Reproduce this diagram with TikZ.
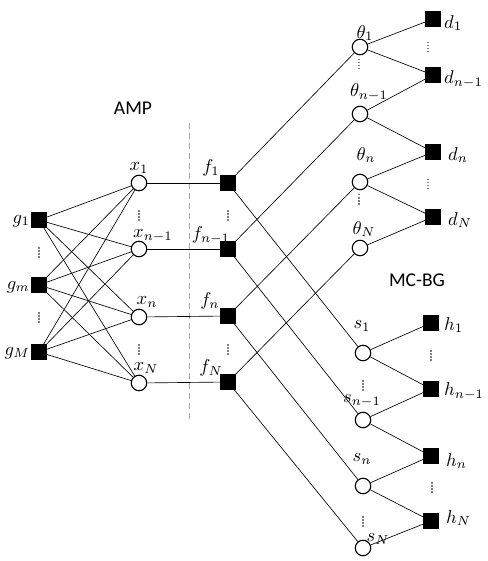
\documentclass[tikz,border=0pt]{standalone}
\usepackage{fontspec}
\newfontfamily\calib{Carlito}
\newcommand{\lbl}[1]{\scalebox{1.85}{$#1$}}
\begin{document}
\begin{tikzpicture}[x=1pt,y=-1pt,
  sq/.style={draw,fill=black,minimum size=15pt,inner sep=0pt,rectangle},
  cir/.style={draw,fill=white,circle,minimum size=15.5pt,inner sep=0pt,line width=1.1pt},
  edge/.style={line width=0.65pt},
  vdots/.style={gray,line width=1.4pt,dash pattern=on 1.5pt off 1.5pt},
  lab/.style={inner sep=0pt},
  ttl/.style={font=\calib\fontsize{19.5}{22}\selectfont}]
\useasboundingbox (0,0) rectangle (487,561);
% dashed separator
\draw[gray!70,line width=1pt,dash pattern=on 6pt off 4pt] (189,123) -- (189,419);
% nodes
\node[sq] (g1) at (39,220) {};
\node[sq] (gm) at (39,285) {};
\node[sq] (gM) at (39,352) {};
\node[cir] (x1) at (139,183) {};
\node[cir] (xn1) at (139,249) {};
\node[cir] (xn) at (139,317) {};
\node[cir] (xN) at (139,383) {};
\node[sq] (f1) at (228,183) {};
\node[sq] (fn1) at (228,249) {};
\node[sq] (fn) at (228,316) {};
\node[sq] (fN) at (228,382) {};
\node[cir] (t1) at (360,47) {};
\node[cir] (tn1) at (360,114) {};
\node[cir] (tn) at (360,182) {};
\node[cir] (tN) at (360,248) {};
\node[sq] (d1) at (433,19) {};
\node[sq] (dn1) at (433,75) {};
\node[sq] (dn) at (433,152) {};
\node[sq] (dN) at (433,217) {};
\node[cir] (s1) at (363,353) {};
\node[cir] (sn1) at (363,420) {};
\node[cir] (sn) at (363,486) {};
\node[cir] (sN) at (363,548) {};
\node[sq] (h1) at (431,323) {};
\node[sq] (hn1) at (431,389) {};
\node[sq] (hn) at (431,456) {};
\node[sq] (hN) at (431,521) {};
% edges
\foreach \g in {g1,gm,gM}{
  \foreach \x in {x1,xn1,xn,xN}{
    \draw[edge] (\g) -- (\x);
  }
}
\draw[edge] (x1) -- (f1);
\draw[edge] (xn1) -- (fn1);
\draw[edge] (xn) -- (fn);
\draw[edge] (xN) -- (fN);
\draw[edge] (f1) -- (t1);
\draw[edge] (f1) -- (s1);
\draw[edge] (fn1) -- (tn1);
\draw[edge] (fn1) -- (sn1);
\draw[edge] (fn) -- (tn);
\draw[edge] (fn) -- (sn);
\draw[edge] (fN) -- (tN);
\draw[edge] (fN) -- (sN);
\draw[edge] (t1) -- (d1);
\draw[edge] (t1) -- (dn1);
\draw[edge] (tn1) -- (dn1);
\draw[edge] (tn1) -- (dn);
\draw[edge] (tn) -- (dn);
\draw[edge] (tn) -- (dN);
\draw[edge] (tN) -- (dN);
\draw[edge] (s1) -- (h1);
\draw[edge] (s1) -- (hn1);
\draw[edge] (sn1) -- (hn1);
\draw[edge] (sn1) -- (hn);
\draw[edge] (sn) -- (hn);
\draw[edge] (sn) -- (hN);
\draw[edge] (sN) -- (hN);
% vertical dots
\foreach \px/\py in {39/253, 39/318, 139/216, 139/350, 228/216, 228/350,
  359/65, 359/200, 428/48, 428/185, 363/386, 363/522, 431/356, 432/488}{
  \draw[vdots] (\px,\py-6) -- (\px,\py+6);
}
% labels
\node[lab,anchor=east] at (30,221) {\lbl{g_1}};
\node[lab,anchor=east] at (30,287) {\lbl{g_m}};
\node[lab,anchor=east] at (30,353) {\lbl{g_M}};
\node[lab] at (139,168) {\lbl{x_1}};
\node[lab] at (153,236) {\lbl{x_{n-1}}};
\node[lab] at (147,302) {\lbl{x_n}};
\node[lab] at (146,368) {\lbl{x_N}};
\node[lab] at (211,168) {\lbl{f_1}};
\node[lab] at (211,235) {\lbl{f_{n-1}}};
\node[lab] at (210,301) {\lbl{f_n}};
\node[lab] at (211,368) {\lbl{f_N}};
\node[lab] at (365,33) {\lbl{\theta_1}};
\node[lab] at (369,92) {\lbl{\theta_{n-1}}};
\node[lab] at (366,155) {\lbl{\theta_n}};
\node[lab] at (364,229) {\lbl{\theta_N}};
\node[lab,anchor=west] at (444,23) {\lbl{d_1}};
\node[lab,anchor=west] at (444,79) {\lbl{d_{n-1}}};
\node[lab,anchor=west] at (448,155) {\lbl{d_n}};
\node[lab,anchor=west] at (448,220) {\lbl{d_N}};
\node[lab] at (362,326) {\lbl{s_1}};
\node[lab] at (362,401) {\lbl{s_{n-1}}};
\node[lab] at (362,459) {\lbl{s_n}};
\node[lab] at (378,539) {\lbl{s_N}};
\node[lab,anchor=west] at (444,325) {\lbl{h_1}};
\node[lab,anchor=west] at (444,391) {\lbl{h_{n-1}}};
\node[lab,anchor=west] at (446,461) {\lbl{h_n}};
\node[lab,anchor=west] at (446,518) {\lbl{h_N}};
\node[ttl] (amp) at (133,108) {AMP};
\node[ttl] (mcbg) at (417,280) {MC-BG};
\end{tikzpicture}
\end{document}
